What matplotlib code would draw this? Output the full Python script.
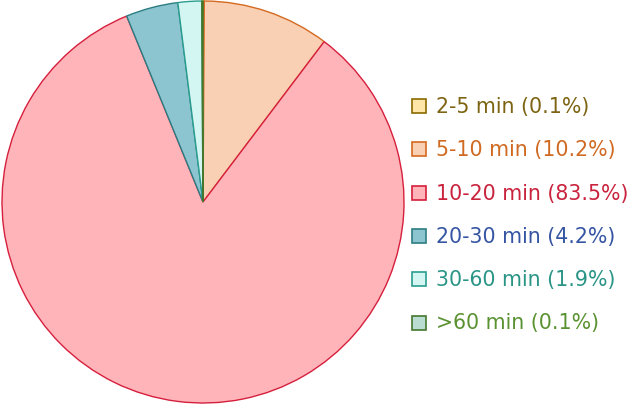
import matplotlib
matplotlib.use("Agg")
import matplotlib.pyplot as plt
from matplotlib.patches import Rectangle

labels = ["2-5 min", "5-10 min", "10-20 min", "20-30 min", "30-60 min", ">60 min"]
values = [0.1, 10.2, 83.5, 4.2, 1.9, 0.1]
face_colors = ["#fde6a8", "#fad0b5", "#feb4b9", "#8cc5d0", "#d3f6f2", "#b9ddd0"]
edge_colors = ["#8a6a00", "#d4691f", "#d61f3c", "#2c7d83", "#2a9d8f", "#44782f"]
text_colors = ["#7d6412", "#d06a22", "#c9233d", "#3555a3", "#2a9586", "#5a9232"]

W, H = 632, 406
fig = plt.figure(figsize=(W / 100, H / 100), dpi=100)
ax = fig.add_axes([2 / W, 2 / H, 402 / W, 402 / H])
wedges, _ = ax.pie(values, colors=face_colors, startangle=90, counterclock=False,
                   wedgeprops=dict(linewidth=1.0))
for w, ec in zip(wedges, edge_colors):
    w.set_edgecolor(ec)
ax.set_xlim(-1.0, 1.0)
ax.set_ylim(-1.0, 1.0)
ax.set_aspect("equal")
ax.axis("off")

font = ["DejaVu Sans"]
y0, dy = 107, 43.3
for i, (lab, v) in enumerate(zip(labels, values)):
    yc = y0 + i * dy
    fig.patches.append(Rectangle((412 / W, 1 - (yc + 7) / H), 14 / W, 14 / H,
                                 transform=fig.transFigure, facecolor=face_colors[i],
                                 edgecolor=edge_colors[i], linewidth=1.2))
    fig.text(436 / W, 1 - yc / H, f"{lab} ({v}%)", color=text_colors[i],
             fontsize=14.8, family=font, va="center", ha="left")

fig.savefig("out.png", dpi=100)
